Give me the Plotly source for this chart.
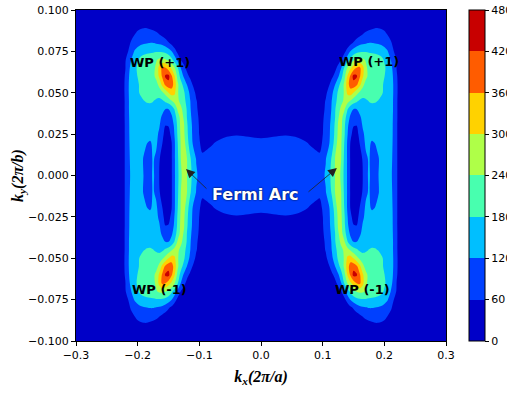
import plotly.graph_objects as go

# Spectral weight on the (kx, ky) surface, sampled on one quadrant (kx >= 0, ky >= 0);
# the map is symmetric under kx -> -kx and ky -> -ky.
kx_half = [0, .02, .04, .06, .08, .09, .095, .1, .105, .11, .115, .12, .125, .13, .135, .14,
           .145, .15, .155, .16, .165, .17, .175, .18, .185, .19, .195, .2, .205, .21, .215,
           .22, .225, .23, .25, .3]
ky_half = [0, .01, .02, .025, .03, .035, .04, .045, .05, .055, .06, .065, .07, .075, .08,
           .085, .09, .1]

weight_ky_000 = [95, 95, 95, 92, 95, 100, 105, 112, 125, 160, 200, 240, 265, 230, 165, 115, 55, 30, 25, 30, 60, 110, 125, 110, 100, 118, 135, 145, 140, 128, 110, 65, 40, 30, 20, 15]
weight_ky_010 = [95, 95, 95, 92, 88, 80, 78, 95, 118, 145, 190, 240, 265, 240, 170, 115, 55, 30, 28, 35, 65, 110, 125, 105, 95, 115, 135, 145, 142, 130, 112, 65, 40, 30, 20, 15]
weight_ky_020 = [75, 85, 98, 80, 53, 40, 30, 68, 95, 112, 150, 205, 260, 245, 180, 115, 58, 35, 35, 62, 100, 130, 128, 115, 122, 135, 145, 150, 145, 130, 115, 65, 40, 30, 20, 15]
weight_ky_025 = [45, 48, 52, 45, 32, 30, 30, 58, 90, 110, 140, 195, 250, 250, 190, 125, 75, 40, 40, 75, 110, 135, 145, 140, 140, 145, 150, 150, 145, 132, 115, 65, 40, 30, 20, 15]
weight_ky_030 = [35, 36, 38, 35, 30, 28, 32, 55, 88, 110, 135, 190, 245, 255, 195, 130, 95, 62, 58, 90, 125, 145, 150, 150, 150, 150, 150, 150, 145, 133, 115, 65, 40, 30, 20, 15]
weight_ky_035 = [32, 32, 33, 32, 28, 28, 30, 50, 82, 105, 130, 178, 235, 260, 210, 150, 110, 95, 95, 110, 135, 150, 152, 152, 152, 152, 152, 150, 145, 133, 116, 66, 40, 30, 20, 15]
weight_ky_040 = [30, 30, 30, 30, 27, 27, 28, 42, 72, 100, 125, 175, 215, 255, 250, 185, 140, 118, 118, 135, 150, 155, 155, 158, 158, 158, 155, 152, 146, 134, 117, 66, 40, 30, 20, 15]
weight_ky_045 = [28, 28, 28, 28, 26, 26, 27, 38, 65, 95, 122, 160, 200, 225, 250, 262, 235, 205, 190, 170, 160, 170, 182, 188, 186, 178, 165, 155, 146, 134, 117, 66, 40, 30, 20, 15]
weight_ky_050 = [27, 27, 27, 27, 26, 26, 27, 35, 45, 85, 112, 140, 190, 215, 245, 310, 330, 298, 260, 230, 215, 210, 215, 215, 212, 205, 190, 170, 150, 135, 118, 68, 40, 30, 20, 15]
weight_ky_055 = [26, 26, 26, 26, 25, 25, 25, 28, 35, 52, 85, 118, 160, 200, 250, 330, 390, 400, 375, 320, 255, 220, 215, 215, 212, 205, 192, 172, 150, 135, 118, 68, 40, 30, 20, 15]
weight_ky_060 = [25, 25, 25, 25, 25, 25, 25, 25, 27, 32, 50, 75, 110, 160, 215, 302, 370, 440, 430, 370, 310, 255, 225, 218, 215, 208, 196, 182, 160, 138, 115, 65, 40, 30, 20, 15]
weight_ky_065 = [24, 24, 24, 24, 24, 24, 24, 24, 24, 25, 30, 45, 75, 118, 185, 242, 290, 330, 362, 375, 320, 250, 225, 220, 216, 210, 200, 188, 165, 135, 108, 58, 38, 30, 20, 15]
weight_ky_070 = [23, 23, 23, 23, 23, 23, 23, 23, 23, 23, 24, 26, 35, 58, 100, 150, 195, 225, 245, 255, 250, 235, 220, 215, 212, 205, 195, 175, 150, 122, 92, 55, 35, 28, 20, 15]
weight_ky_075 = [22, 22, 22, 22, 22, 22, 22, 22, 22, 22, 22, 23, 23, 24, 45, 80, 122, 150, 165, 172, 175, 175, 172, 170, 168, 163, 155, 140, 124, 100, 62, 40, 30, 26, 20, 15]
weight_ky_080 = [20, 20, 20, 20, 20, 20, 20, 20, 20, 20, 20, 21, 22, 23, 24, 25, 45, 65, 90, 105, 112, 116, 121, 121, 118, 115, 110, 102, 92, 70, 45, 32, 27, 24, 18, 15]
weight_ky_085 = [20, 20, 20, 20, 20, 20, 20, 20, 20, 20, 20, 20, 21, 21, 22, 22, 23, 26, 34, 48, 62, 72, 78, 82, 84, 84, 82, 75, 60, 44, 30, 26, 24, 22, 18, 15]
weight_ky_090 = [18, 18, 18, 18, 18, 18, 18, 18, 18, 18, 18, 18, 18, 19, 19, 20, 20, 21, 23, 27, 33, 40, 46, 50, 54, 54, 51, 45, 38, 30, 25, 22, 20, 19, 17, 15]
weight_ky_100 = [16, 16, 16, 16, 16, 16, 16, 16, 16, 16, 16, 16, 16, 16, 16, 16, 16, 16, 16, 16, 16, 16, 16, 16, 16, 16, 16, 16, 16, 16, 16, 16, 16, 16, 16, 16]

weight_half = [weight_ky_000, weight_ky_010, weight_ky_020, weight_ky_025, weight_ky_030,
               weight_ky_035, weight_ky_040, weight_ky_045, weight_ky_050, weight_ky_055,
               weight_ky_060, weight_ky_065, weight_ky_070, weight_ky_075, weight_ky_080,
               weight_ky_085, weight_ky_090, weight_ky_100]

level_ticks = [0, 60, 120, 180, 240, 300, 360, 420, 480]
band_colors = ["rgb(0,0,200)", "rgb(0,64,255)", "rgb(0,191,255)", "rgb(72,255,175)",
               "rgb(175,255,72)", "rgb(255,210,0)", "rgb(255,92,0)", "rgb(200,0,0)"]
x_ticks = [-0.3, -0.2, -0.1, 0.0, 0.1, 0.2, 0.3]
y_ticks = [-0.1, -0.075, -0.05, -0.025, 0.0, 0.025, 0.05, 0.075, 0.1]

# unfold the quadrant onto the full (kx, ky) plane
kx = [-v for v in reversed(kx_half[1:])] + kx_half
ky = [-v for v in reversed(ky_half[1:])] + ky_half
rows_half = [list(reversed(r[1:])) + r for r in weight_half]
weight = list(reversed(rows_half[1:])) + rows_half

# contour fills: the band above level L takes colorMap(L + size/2)
n_lv = len(level_ticks)
edges = [0.0] + [(k + 1.5) / n_lv for k in range(len(band_colors) - 1)] + [1.0]
fill_scale = []
for k, c in enumerate(band_colors):
    fill_scale.append([edges[k], c])
    fill_scale.append([edges[k + 1], c])

# colour bar: eight equal bands over 0..480
n_b = len(band_colors)
bar_scale = []
for k, c in enumerate(band_colors):
    bar_scale.append([k / n_b, c])
    bar_scale.append([(k + 1) / n_b, c])

fig = go.Figure(go.Contour(
    x=kx, y=ky, z=weight,
    colorscale=fill_scale,
    contours=dict(start=level_ticks[0], end=level_ticks[-1], size=60, coloring="fill"),
    line=dict(width=0, smoothing=0.9),
    showscale=False,
    hoverinfo="skip",
))

fig.add_trace(go.Scatter(
    x=[None], y=[None], mode="markers", showlegend=False, hoverinfo="skip",
    marker=dict(
        color=[level_ticks[0]], cmin=level_ticks[0], cmax=level_ticks[-1],
        colorscale=bar_scale, showscale=True,
        colorbar=dict(
            thickness=16, len=1, lenmode="fraction", x=1.062, xanchor="left",
            y=0.5, yanchor="middle", xpad=0, ypad=0,
            outlinewidth=1, outlinecolor="black",
            tickvals=level_ticks, ticks="outside", ticklen=4, tickcolor="black",
            tickfont=dict(family="DejaVu Sans", size=11, color="black"),
        ),
    ),
))

title_font = dict(family="Liberation Serif", size=16, color="black")
fig.update_layout(
    width=507, height=394,
    margin=dict(l=76, r=61, t=10, b=53, autoexpand=False),
    paper_bgcolor="white", plot_bgcolor="white",
    font=dict(family="DejaVu Sans", size=11, color="black"),
    xaxis=dict(
        range=[-0.3, 0.3], tickvals=x_ticks, tickformat=".1f",
        ticks="outside", ticklen=4, tickcolor="black",
        showline=True, linecolor="black", linewidth=1, mirror=True,
        showgrid=False, zeroline=False,
        title=dict(text="<b><i>k<sub>x</sub>(2π/a)</i></b>", font=title_font, standoff=9),
    ),
    yaxis=dict(
        range=[-0.1, 0.1], tickvals=y_ticks, tickformat=".3f",
        ticks="outside", ticklen=4, tickcolor="black",
        showline=True, linecolor="black", linewidth=1, mirror=True,
        showgrid=False, zeroline=False,
        title=dict(text="<b><i>k<sub>y</sub>(2π/b)</i></b>", font=title_font, standoff=0),
    ),
)

wp_font = dict(family="DejaVu Sans", size=13, color="black", weight="bold")
for tx, ty, label in [(-0.164, 0.068, "WP (+1)"), (0.175, 0.069, "WP (+1)"),
                      (-0.165, -0.069, "WP (-1)"), (0.165, -0.069, "WP (-1)")]:
    fig.add_annotation(x=tx, y=ty, text=label, showarrow=False, font=wp_font)

# arrows from the label to the two arc terminations
for tip_x, tip_y, tail_x, tail_y in [(-0.1216, 0.0039, -0.086, -0.0088),
                                     (0.123, 0.0045, 0.0746, -0.0106)]:
    fig.add_annotation(x=tip_x, y=tip_y, ax=tail_x, ay=tail_y, axref="x", ayref="y",
                       text="", showarrow=True, arrowhead=2, arrowsize=2.2,
                       arrowwidth=0.8, arrowcolor="#222222", standoff=0, startstandoff=0)

fig.add_annotation(x=-0.0097, y=-0.0112, text="Fermi Arc", showarrow=False,
                   font=dict(family="DejaVu Sans", size=16, color="white", weight="bold",
                             shadow="0px 0px 2px #000000"))

fig.write_html("out.html", config={"displayModeBar": False})
